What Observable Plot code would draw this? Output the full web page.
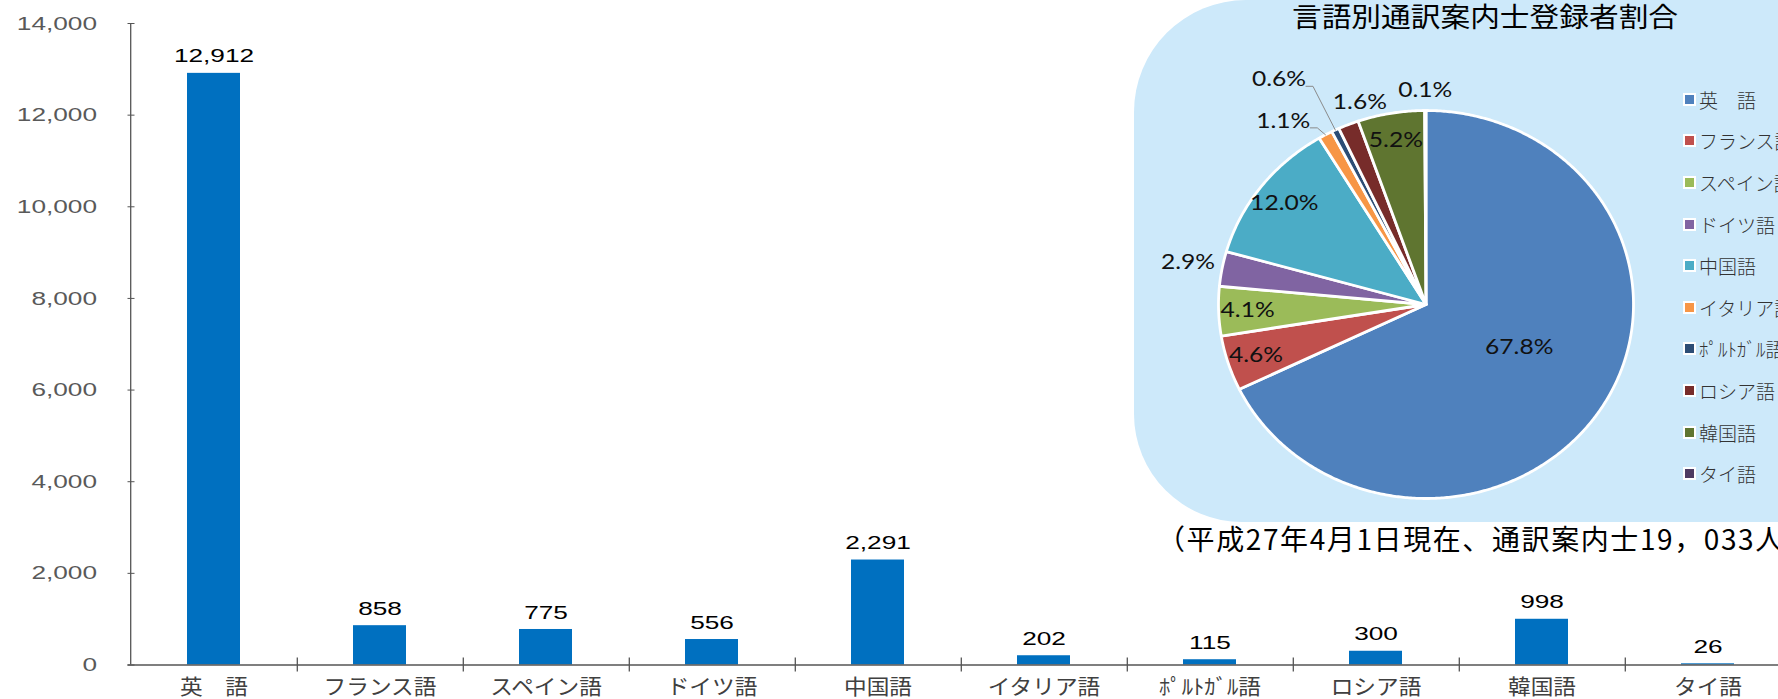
<!DOCTYPE html>
<html><head><meta charset="utf-8">
<script src="https://cdn.jsdelivr.net/npm/d3@7"></script>
<script src="https://cdn.jsdelivr.net/npm/@observablehq/plot@0.6"></script>
<style>
html,body{margin:0;padding:0;background:#fff;}
#wrap{position:relative;width:1778px;height:699px;overflow:hidden;}
#wrap > *{position:absolute;}
.panel{left:1134px;top:0px;width:900px;height:522px;border-radius:112px 0 0 108px;background:#cde9fa;}
.title{top:0px;left:1485px;transform:translateX(-50%) scale(1.1,1);white-space:nowrap;font-family:"Noto Sans CJK JP",sans-serif;font-size:27px;line-height:32px;color:#000;}
.caption{left:1157px;top:522px;white-space:nowrap;font-family:"Noto Sans CJK JP",sans-serif;font-size:28px;letter-spacing:1.6px;line-height:32px;color:#000;}
.legend{left:1683px;top:0;}
.legend .item{position:absolute;left:0;white-space:nowrap;font-family:"Noto Sans CJK JP",sans-serif;font-weight:300;font-size:19px;line-height:22px;color:#333;}
.legend .sw{display:inline-block;width:9px;height:9px;border:2px solid #fff;margin-right:3px;vertical-align:2px;}
</style></head><body><div id="wrap"></div>
<script>
// ---- data ----
const languages = ["英　語","フランス語","スペイン語","ドイツ語","中国語","イタリア語","ﾎﾟﾙﾄｶﾞﾙ語","ロシア語","韓国語","タイ語"];
const guideCounts = [12912, 858, 775, 556, 2291, 202, 115, 300, 998, 26];
const sharePercent = [67.8, 4.6, 4.1, 2.9, 12.0, 1.1, 0.6, 1.6, 5.2, 0.1];
const yTicks = [0, 2000, 4000, 6000, 8000, 10000, 12000, 14000];
const pieTitle = "言語別通訳案内士登録者割合";
const captionText = "（平成27年4月1日現在、通訳案内士19，033人）";

// ---- styles / layout ----
const pieColors = ["#4F81BD","#C0504D","#9BBB59","#8064A2","#4BACC6","#F79646","#2C4D75","#772C2A","#5F7530","#4D3B62"];
const W = 1778, H = 699;
const wrap = d3.select("#wrap");

// widen glyphs horizontally around each text's anchor point (svg must be in the DOM)
function stretchText(svg, selector, s) {
  d3.select(svg).selectAll(selector).each(function() {
    const g = document.createElementNS("http://www.w3.org/2000/svg", "g");
    this.parentNode.insertBefore(g, this);
    g.appendChild(this);
    const b = g.getBBox();
    const anchor = getComputedStyle(this).textAnchor;
    const ax = anchor === "end" ? b.x + b.width : anchor === "middle" ? b.x + b.width / 2 : b.x;
    g.setAttribute("transform", `translate(${ax},0) scale(${s},1) translate(${-ax},0)`);
  });
}

// ---- bar chart ----
const barData = languages.map((lang, i) => ({lang, value: guideCounts[i]}));
const xRange = [127.5, 1793.5];
const step = (xRange[1] - xRange[0]) / languages.length;
const fmt = d3.format(",");

const bar = Plot.plot({
  width: W, height: H,
  marginLeft: 127.5, marginRight: 0, marginTop: 23, marginBottom: 34.5,
  style: {background: "transparent", fontFamily: "'Liberation Sans', Arial, sans-serif", overflow: "visible"},
  x: {domain: languages, range: xRange, paddingInner: 0.68, paddingOuter: 0.34, label: null},
  y: {domain: [0, 14000], label: null},
  marks: [
    Plot.barY(barData, {x: "lang", y: "value", fill: "#0070C0"}),
    Plot.ruleY([0], {stroke: "#555", strokeWidth: 1.3}),
    Plot.ruleX([languages[0]], {x: d => d, dx: -step / 2, y1: 0, y2: 14000, stroke: "#555", strokeWidth: 1.3}),
    Plot.ruleX(languages, {x: d => d, dx: step / 2, y1: 0, y2: 0, insetTop: -7, insetBottom: -7, stroke: "#555", strokeWidth: 1.3}),
    Plot.axisY({ticks: yTicks, tickSize: 7, dx: 7, tickFormat: () => "", stroke: "#555", label: null}),
    Plot.axisY({ticks: yTicks, tickSize: 0, tickPadding: 31, tickFormat: fmt, fontSize: 19, fill: "#595959", label: null}),
    Plot.axisX({tickSize: 0, tickPadding: 14, fontSize: 21, fontFamily: "'Noto Sans CJK JP', sans-serif", fill: "#404040", label: null}),
    Plot.text(barData, {x: "lang", y: "value", text: d => fmt(d.value), dy: -17, fontSize: 19, fill: "#000"})
  ]
});
wrap.append(() => bar).style("left", "0px").style("top", "0px");
stretchText(bar, "g[aria-label='y-axis tick label'] text", 1.38);
stretchText(bar, "g[aria-label='x-axis tick label'] text", 1.08);
stretchText(bar, "g[aria-label='text'] text", 1.38);

// ---- pie panel ----
wrap.append("div").attr("class", "panel");
wrap.append("div").attr("class", "title").text(pieTitle);

const total = d3.sum(sharePercent);
let acc = 0;
const slices = sharePercent.map((p, i) => {
  const a0 = acc / total * 2 * Math.PI; acc += p;
  const a1 = acc / total * 2 * Math.PI;
  return {i, lang: languages[i], pct: p, a0, a1, mid: (a0 + a1) / 2};
});
const slicePts = slices.flatMap(s => {
  const pts = [{lang: s.lang, x: 0, y: 0}];
  const k = Math.max(2, Math.ceil((s.a1 - s.a0) / (Math.PI / 360)));
  for (let j = 0; j <= k; j++) {
    const a = s.a0 + (s.a1 - s.a0) * j / k;
    pts.push({lang: s.lang, x: Math.sin(a), y: Math.cos(a)});
  }
  return pts;
});

// pie frame in pixels
const pie = {cx: 1425.5, cy: 304, rx: 207.5, ry: 194};
// label placement rules (layout only)
const labelOverride = {0: {angle: 116, r: 0.5}, 5: {angle: 324, r: 1.17, leader: true}, 6: {angle: 328.6, r: 1.36, leader: true}, 7: {angle: 343, r: 1.09}};
const halfW = 24, halfH = 11.5, gap = 9;
const labels = [], leaders = [];
slices.forEach(s => {
  const o = labelOverride[s.i] || {};
  const a = o.angle != null ? o.angle * Math.PI / 180 : s.mid;
  const sa = Math.sin(a), ca = Math.cos(a);
  let x, y;
  if (o.r != null) { x = o.r * sa; y = o.r * ca; }
  else if (s.pct >= 4) { x = 0.86 * sa; y = 0.86 * ca; }
  else {
    const off = gap + Math.abs(sa) * halfW + Math.abs(ca) * halfH;
    x = sa * (1 + off / pie.rx); y = ca * (1 + off / pie.ry);
  }
  labels.push({lang: s.lang, x, y, text: s.pct.toFixed(1) + "%"});
  if (o.leader) {
    const x0 = x + (halfW + 3) / pie.rx, y0 = y - 7 / pie.ry;
    leaders.push({lang: s.lang, x: x0, y: y0});
    leaders.push({lang: s.lang, x: x0 + 7 / pie.rx, y: y0});
    leaders.push({lang: s.lang, x: Math.sin(s.mid), y: Math.cos(s.mid)});
  }
});

const pieSvg = Plot.plot({
  width: W, height: H,
  marginLeft: pie.cx - pie.rx, marginRight: W - (pie.cx + pie.rx),
  marginTop: pie.cy - pie.ry, marginBottom: H - (pie.cy + pie.ry),
  x: {domain: [-1, 1], axis: null}, y: {domain: [-1, 1], axis: null},
  color: {domain: languages, range: pieColors},
  style: {background: "transparent", overflow: "visible"},
  marks: [
    Plot.line(slicePts, {x: "x", y: "y", z: "lang", fill: "lang", stroke: "#fff", strokeWidth: 2.8, curve: "linear-closed", strokeLinejoin: "round"}),
    Plot.line(leaders, {x: "x", y: "y", z: "lang", stroke: "#8a8a8a", strokeWidth: 1}),
    Plot.text(labels, {x: "x", y: "y", text: "text", fontSize: 22, fontFamily: "Lato, 'Open Sans', sans-serif", fill: "#111"})
  ]
});
wrap.append(() => pieSvg).style("left", "0px").style("top", "0px");
stretchText(pieSvg, "g[aria-label='text'] text", 1.12);

// legend
const legend = wrap.append("div").attr("class", "legend");
languages.forEach((l, i) => {
  const it = legend.append("div").attr("class", "item").style("top", (99.8 + i * 41.6 - 11) + "px");
  it.append("span").attr("class", "sw").style("background", pieColors[i]);
  it.append("span").text(l);
});

wrap.append("div").attr("class", "caption").text(captionText);
</script></body></html>
